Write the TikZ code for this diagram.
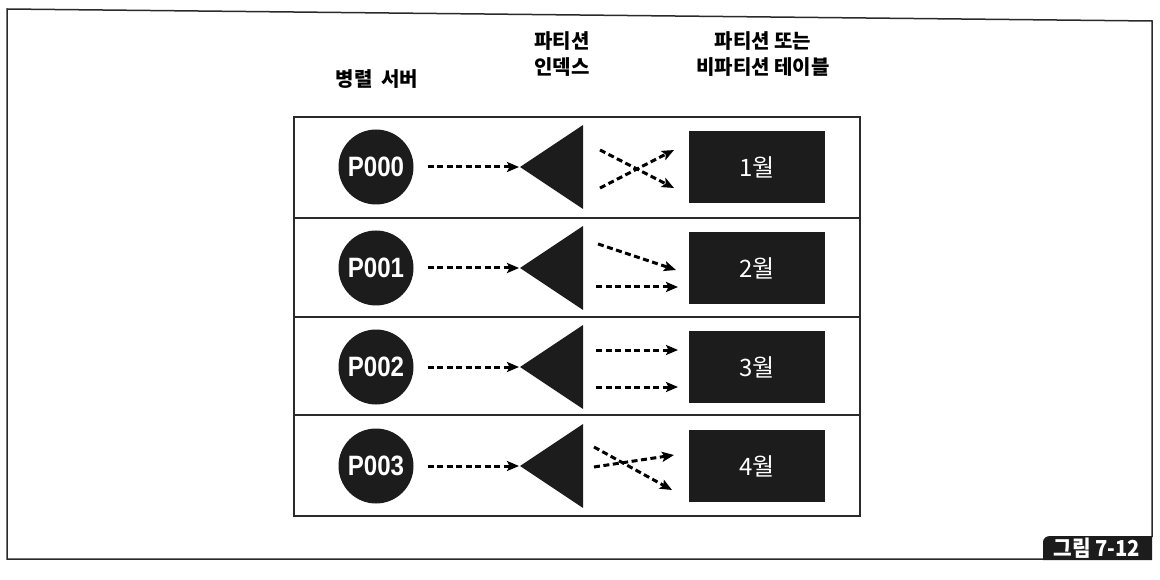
\documentclass[tikz,border=0pt]{standalone}
\usepackage{fontspec}
\setmainfont{Liberation Sans}
\newfontfamily\kr{Noto Sans CJK KR}
\usetikzlibrary{arrows.meta}
\definecolor{ink}{HTML}{1C1C1C}
\definecolor{frame}{HTML}{2A2A2A}
\newcommand{\narrowtext}[1]{\scalebox{0.86}[1]{#1}}
\tikzset{
  server/.style={circle, fill=ink, minimum size=75pt, inner sep=0pt, text=white, font=\bfseries\fontsize{28}{28}\selectfont},
  tablebox/.style={rectangle, fill=ink, minimum width=136pt, minimum height=72pt, inner sep=0pt, text=white, font=\kr\fontsize{24}{24}\selectfont},
  header/.style={font=\kr\bfseries\fontsize{20}{20}\selectfont, align=center, text=black},
  flow/.style={draw=black, line width=3pt, dash pattern=on 6pt off 3.5pt, -{Stealth[length=12pt,width=10pt,inset=2.5pt]}},
  gridline/.style={draw=frame, line width=1.5pt},
}
\begin{document}
\begin{tikzpicture}[x=1pt,y=-1pt]
\useasboundingbox (0,0) rectangle (1160,580);
% outer frame
\draw[gridline] (1043,559) -- (7,559) -- (7,9) -- (1152,21) -- (1152,537);
% tag
\fill[ink] (1152,560) -- (1043,560) -- (1043,542) to[out=90,in=180] (1050,536) -- (1152,536) -- cycle;
\node[text=white, inner sep=0pt, font=\kr\bfseries\fontsize{22}{22}\selectfont] (tag) at (1097,548) {\scalebox{0.92}[1]{그림 7-12}};
% headers
\node[header] (h1) at (377,79) {병렬\hspace{4pt} 서버};
\node[header] (h2) at (562,54) {파티션\\[6pt]인덱스};
\node[header] (h3) at (763,54) {파티션 또는\\[6pt]비파티션 테이블};
% table
\draw[gridline] (294,117) rectangle (860,516);
\draw[gridline] (294,218) -- (860,218);
\draw[gridline] (294,317) -- (860,317);
\draw[gridline] (294,415) -- (860,415);
% rows
\foreach \i/\y/\lab/\mon in {1/167/P000/1월, 2/268/P001/2월, 3/367/P002/3월, 4/466/P003/4월}{
  \node[server] (s\i) at (376,\y) {\narrowtext{\lab}};
  \fill[ink] (520,\y) -- (583,\y-42) -- (583,\y+42) -- cycle;
  \coordinate (ix\i) at (519,\y);
  \node[tablebox] (t\i) at (757,\y) {\mon};
  \draw[flow] (s\i.east) ++(14,0) coordinate (a\i) -- (ix\i);
}
% partition routing
\coordinate (p1a) at (600,150); \coordinate (q1a) at (674,188);
\coordinate (p1b) at (600,188); \coordinate (q1b) at (674,150);
\draw[flow] (p1a) -- (q1a);
\draw[flow] (p1b) -- (q1b);
\coordinate (p2a) at (598,244); \coordinate (q2a) at (676,270);
\coordinate (p2b) at (596,287); \coordinate (q2b) at (678,287);
\draw[flow] (p2a) -- (q2a);
\draw[flow] (p2b) -- (q2b);
\coordinate (p3a) at (596,350); \coordinate (q3a) at (678,350);
\coordinate (p3b) at (596,387); \coordinate (q3b) at (678,387);
\draw[flow] (p3a) -- (q3a);
\draw[flow] (p3b) -- (q3b);
\coordinate (p4a) at (594,447); \coordinate (q4a) at (672,490);
\coordinate (p4b) at (594,467); \coordinate (q4b) at (674,455);
\draw[flow] (p4a) -- (q4a);
\draw[flow] (p4b) -- (q4b);
\end{tikzpicture}
\end{document}
